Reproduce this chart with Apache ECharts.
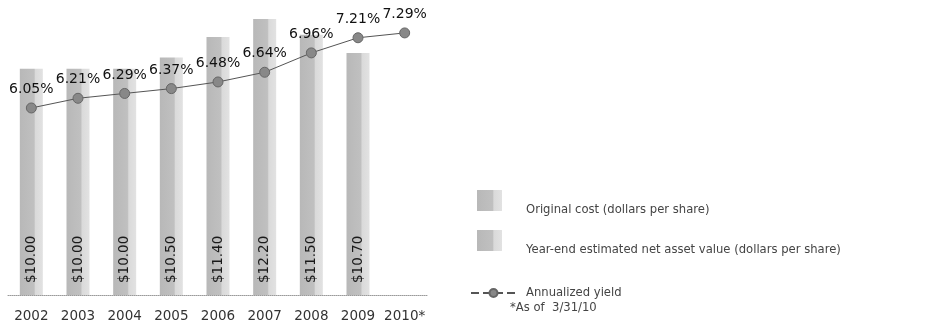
<!DOCTYPE html>
<html>
<head>
<meta charset="utf-8">
<script src="https://cdn.jsdelivr.net/npm/echarts@6/dist/echarts.min.js"></script>
<style>
  html, body { margin: 0; padding: 0; background: #fff; }
  #chart { width: 941px; height: 326px; }
</style>
</head>
<body>
<div id="chart"></div>
<script>
const categories = ['2002', '2003', '2004', '2005', '2006', '2007', '2008', '2009', '2010*'];
const navValues = [10.00, 10.00, 10.00, 10.50, 11.40, 12.20, 11.50, 10.70, null];
const costValues = [null, null, null, null, null, null, null, null, null];
const yieldValues = [6.05, 6.21, 6.29, 6.37, 6.48, 6.64, 6.96, 7.21, 7.29];
const seriesNames = ['Original cost (dollars per share)', 'Year-end estimated net asset value (dollars per share)', 'Annualized yield'];
const footnote = '*As of  3/31/10';

const FONT = 'DejaVu Sans';
const barFill = new echarts.graphic.LinearGradient(0, 0, 1, 0, [
  { offset: 0, color: '#b8b8b8' },
  { offset: 0.62, color: '#c0c0c0' },
  { offset: 0.68, color: '#dadada' },
  { offset: 1, color: '#e2e2e2' }
]);

const chart = echarts.init(document.getElementById('chart'), null, { renderer: 'canvas' });
chart.setOption({
  animation: false,
  backgroundColor: '#ffffff',
  grid: { left: 8, right: 513, top: 19, bottom: 31, containLabel: false },
  xAxis: {
    type: 'category',
    data: categories,
    axisLine: { show: true, lineStyle: { color: '#9a9a9a', width: 1, type: 'dotted' } },
    axisTick: { show: false },
    axisLabel: { interval: 0, color: '#333', fontFamily: FONT, fontSize: 13.5, margin: 14 }
  },
  yAxis: [
    { type: 'value', min: 0, max: 12.2, show: false, splitLine: { show: false } },
    { type: 'value', min: 2.96, max: 7.52, show: false, splitLine: { show: false } }
  ],
  legend: [
    {
      data: [seriesNames[0], seriesNames[1]],
      orient: 'vertical',
      left: 472, top: 185,
      itemWidth: 25, itemHeight: 40, itemGap: 0,
      icon: 'path://M0,0 L25,0 L25,21 L0,21 Z M0,40 L0.01,40 L0,40 Z',
      textStyle: { color: '#444', fontFamily: FONT, fontSize: 11.6, padding: [0, 0, 0, 19] }
    },
    {
      data: [seriesNames[2]],
      left: 465, top: 282,
      itemWidth: 45, itemHeight: 10,
      lineStyle: { type: 'dashed' },
      textStyle: { color: '#444', fontFamily: FONT, fontSize: 11.6, padding: [0, 0, 0, 5] }
    }
  ],
  title: {
    text: footnote,
    left: 510, top: 302, padding: 0,
    textStyle: { color: '#444', fontFamily: FONT, fontSize: 11.6, fontWeight: 'normal' }
  },
  series: [
    {
      name: seriesNames[0],
      type: 'bar',
      data: costValues,
      barWidth: 23,
      barGap: '-100%',
      itemStyle: { color: barFill }
    },
    {
      name: seriesNames[1],
      type: 'bar',
      data: navValues,
      barWidth: 23,
      barGap: '-100%',
      itemStyle: { color: barFill },
      label: {
        show: true,
        position: 'insideBottom',
        rotate: 90,
        align: 'left',
        verticalAlign: 'middle',
        distance: 12,
        color: '#1a1a1a',
        fontFamily: FONT,
        fontSize: 13.5,
        formatter: p => '$' + p.value.toFixed(2)
      }
    },
    {
      name: seriesNames[2],
      type: 'line',
      yAxisIndex: 1,
      data: yieldValues,
      symbol: 'circle',
      symbolSize: 10,
      itemStyle: { color: '#888888', borderColor: '#666666', borderWidth: 1 },
      lineStyle: { color: '#555', width: 1 },
      label: {
        show: true,
        position: 'top',
        distance: 6,
        color: '#111',
        fontFamily: FONT,
        fontSize: 14,
        formatter: p => p.value.toFixed(2) + '%'
      }
    }
  ]
});
</script>
</body>
</html>
